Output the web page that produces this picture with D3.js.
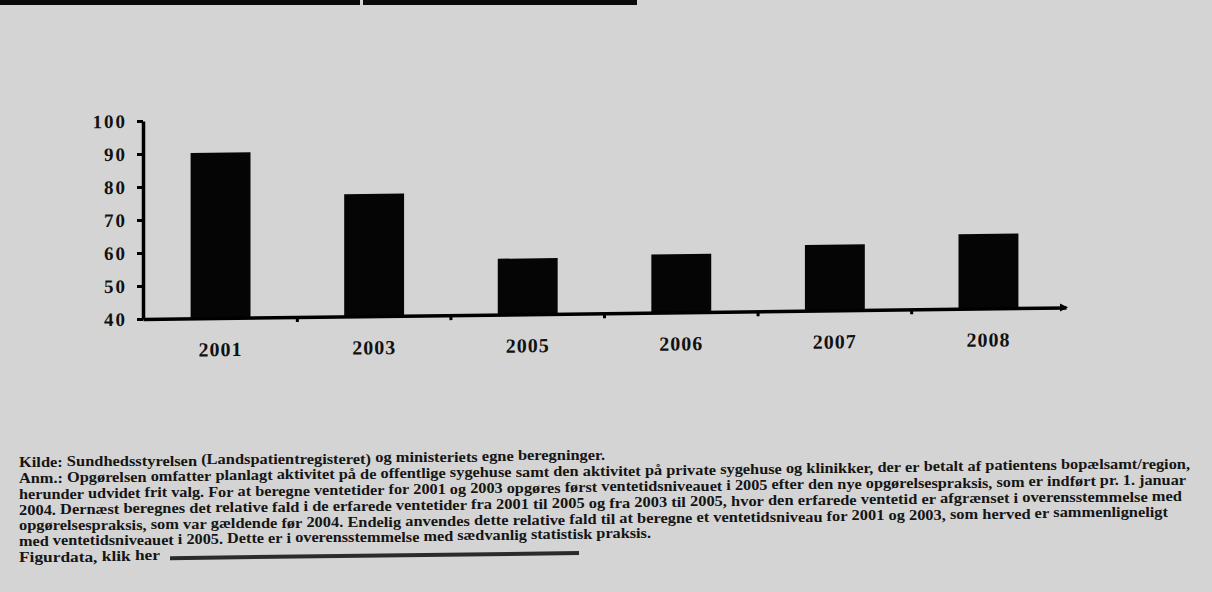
<!DOCTYPE html>
<html>
<head>
<meta charset="utf-8">
<script src="https://cdn.jsdelivr.net/npm/d3@7"></script>
<style>
  html, body { margin: 0; padding: 0; background: #d4d4d4; }
  svg { display: block; }
  text { font-family: "Liberation Serif", "Times New Roman", serif; }
</style>
</head>
<body>
<svg id="chart" width="1212" height="592"></svg>
<script>
// Waiting-time index by year
const categories = ["2001", "2003", "2005", "2006", "2007", "2008"];
const values = [90.1, 77.0, 56.9, 57.6, 59.9, 62.6];
const yTicks = [40, 50, 60, 70, 80, 90, 100];

// Footnote lines under the chart
const noteLines = [
  "Kilde: Sundhedsstyrelsen (Landspatientregisteret) og ministeriets egne beregninger.",
  "Anm.: Opgørelsen omfatter planlagt aktivitet på de offentlige sygehuse samt den aktivitet på private sygehuse og klinikker, der er betalt af patientens bopælsamt/region,",
  "herunder udvidet frit valg. For at beregne ventetider for 2001 og 2003 opgøres først ventetidsniveauet i 2005 efter den nye opgørelsespraksis, som er indført pr. 1. januar",
  "2004. Dernæst beregnes det relative fald i de erfarede ventetider fra 2001 til 2005 og fra 2003 til 2005, hvor den erfarede ventetid er afgrænset i overensstemmelse med",
  "opgørelsespraksis, som var gældende før 2004. Endelig anvendes dette relative fald til at beregne et ventetidsniveau for 2001 og 2003, som herved er sammenligneligt",
  "med ventetidsniveauet i 2005. Dette er i overensstemmelse med sædvanlig statistisk praksis.",
  "Figurdata, klik her"
];
const noteWidths = [586, 1171, 1167, 1163, 1149, 632, 141];

const svg = d3.select("#chart");

// header strip
svg.append("rect").attr("x", 0).attr("y", 0).attr("width", 360).attr("height", 5).attr("fill", "#0a0a0a");
svg.append("rect").attr("x", 363).attr("y", 0).attr("width", 274).attr("height", 5).attr("fill", "#0a0a0a");

const ox = 143, oy = 319;
const lean = 0.72;                        // degrees, content rises toward the right
const slope = Math.tan(lean * Math.PI / 180);
const g = svg.append("g")
  .attr("transform", `translate(${ox},${oy}) skewY(${-lean}) translate(${-ox},${-oy})`);

const x = d3.scaleBand()
  .domain(categories)
  .range([143, 1066])
  .paddingInner(0.61)
  .paddingOuter(0.31);

const y = d3.scaleLinear()
  .domain([40, 100])
  .range([319, 121]);

// bars
g.append("g")
  .selectAll("rect")
  .data(categories)
  .join("rect")
  .attr("x", d => x(d))
  .attr("width", x.bandwidth())
  .attr("y", (d, i) => y(values[i]))
  .attr("height", (d, i) => y(40) - y(values[i]))
  .attr("fill", "#050505");

// y axis
const yAxis = g.append("g")
  .attr("transform", `translate(${ox},0)`)
  .call(d3.axisLeft(y).tickValues(yTicks).tickSize(6).tickSizeOuter(0).tickPadding(10));
yAxis.select(".domain").attr("stroke", "#000").attr("stroke-width", 3.5);
yAxis.selectAll(".tick line").attr("stroke", "#000").attr("stroke-width", 3);
yAxis.selectAll(".tick text")
  .attr("fill", "#111")
  .attr("font-size", 19)
  .attr("font-weight", "bold")
  .attr("letter-spacing", 2);

// x axis
const xAxis = g.append("g")
  .attr("transform", `translate(0,${oy})`)
  .call(d3.axisBottom(x).tickSize(0).tickSizeOuter(0).tickPadding(24));
xAxis.select(".domain").attr("stroke", "#000").attr("stroke-width", 3.5);
xAxis.selectAll(".tick text")
  .attr("fill", "#111")
  .attr("font-size", 20)
  .attr("font-weight", "bold")
  .attr("letter-spacing", 1);

// category boundary ticks
const step = x.step();
g.append("g")
  .selectAll("line")
  .data(categories.slice(1))
  .join("line")
  .attr("x1", d => x(d) + x.bandwidth() / 2 - step / 2)
  .attr("x2", d => x(d) + x.bandwidth() / 2 - step / 2)
  .attr("y1", oy)
  .attr("y2", oy + 5)
  .attr("stroke", "#000")
  .attr("stroke-width", 3);

// arrow tip at the end of the x axis
const xEnd = x.range()[1];
g.append("path")
  .attr("d", `M${xEnd - 6},${oy - 4} L${xEnd + 2},${oy} L${xEnd - 6},${oy + 4} Z`)
  .attr("fill", "#000");

// footnotes: set word by word so each line follows the same lean
const baseY = [465.5, 481.5, 497.5, 513.5, 529.5, 544.5, 560.5];
const noteX = 19;
const notes = svg.append("g")
  .attr("font-size", 14.5)
  .attr("font-weight", "bold")
  .attr("fill", "#151515");

noteLines.forEach((line, i) => {
  const words = line.split(" ");
  const row = notes.append("g");
  const texts = row.selectAll("text")
    .data(words)
    .join("text")
    .text(d => d);
  const widths = [];
  texts.each(function () { widths.push(this.getComputedTextLength()); });
  const space = 14.5 * 0.25;
  const natural = d3.sum(widths) + space * (words.length - 1);
  const k = noteWidths[i] / natural;
  let cx = noteX;
  texts.each(function (d, j) {
    const w = widths[j] * k;
    d3.select(this)
      .attr("x", cx)
      .attr("y", baseY[i] - slope * (cx + w / 2 - ox))
      .attr("textLength", w)
      .attr("lengthAdjust", "spacingAndGlyphs");
    cx += w + space * k;
  });
});

// underlined link after "Figurdata, klik her"
g.append("rect")
  .attr("x", 170).attr("y", baseY[6] - 4)
  .attr("width", 409).attr("height", 4)
  .attr("fill", "#2a2a2a");
</script>
</body>
</html>
